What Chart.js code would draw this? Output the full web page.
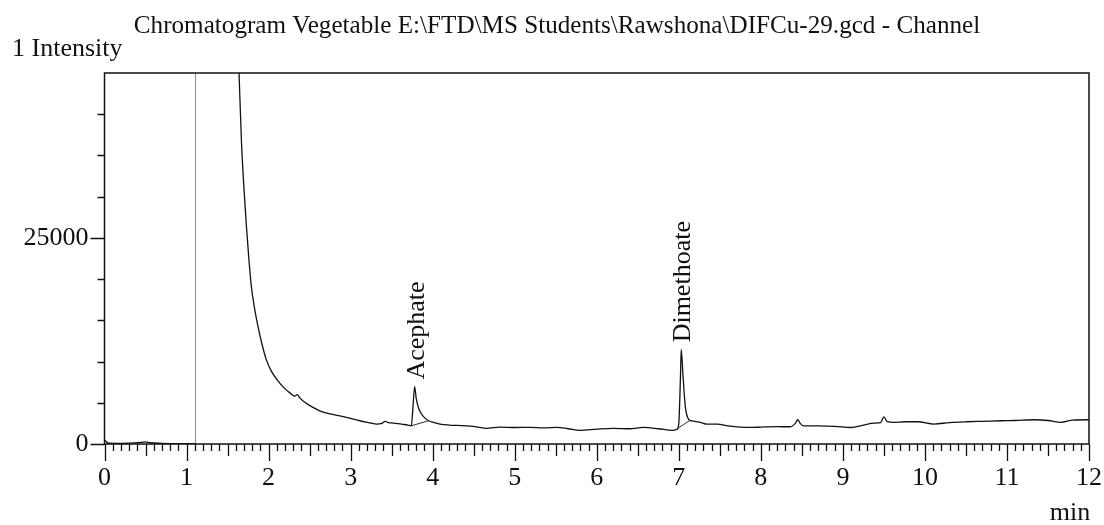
<!DOCTYPE html>
<html>
<head>
<meta charset="utf-8">
<script src="https://cdn.jsdelivr.net/npm/chart.js@4.4.1/dist/chart.umd.min.js"></script>
<style>
    body { margin: 0; background: #fff; }
    #wrap { width: 1104px; height: 525px; }
</style>
</head>
<body>
<div id="wrap"><canvas id="chromCanvas" width="1104" height="525"></canvas></div>
<script>
// retention time (min) and intensity
var signalTimes = [0, 0.02, 0.05, 0.15, 0.3, 0.45, 0.5, 0.55, 0.7, 0.9, 1.05, 1.10, 1.3,
    1.60, 1.64, 1.67, 1.70, 1.73, 1.76, 1.79, 1.83, 1.87, 1.92, 1.97, 2.03, 2.10, 2.18, 2.26, 2.32, 2.35, 2.38,
    2.45, 2.53, 2.63, 2.75, 2.87, 3.0, 3.11, 3.22, 3.32, 3.38, 3.42, 3.46, 3.52, 3.62, 3.70, 3.74,
    3.76, 3.78, 3.80, 3.83, 3.86, 3.90, 3.95, 4.02, 4.09, 4.2, 4.3, 4.42, 4.55, 4.66, 4.82, 5.0,
    5.19, 5.35, 5.52, 5.65, 5.80, 6.0, 6.2, 6.4, 6.57, 6.75, 6.92, 6.98, 7.00, 7.02, 7.03, 7.05,
    7.08, 7.12, 7.16, 7.25, 7.35, 7.47, 7.6, 7.75, 7.88, 8.0, 8.2, 8.36, 8.42, 8.45, 8.48, 8.52,
    8.7, 8.9, 9.10, 9.25, 9.38, 9.46, 9.50, 9.54, 9.62, 9.75, 9.91, 10.11, 10.3, 10.52, 10.7, 10.93,
    11.1, 11.33, 11.5, 11.66, 11.8, 11.99, 12.0];
var signalValues = [500, 300, 100, 80, 100, 200, 250, 150, 80, 50, 50, 50, null,
    56000, 45000, 36500, 31000, 26400, 22400, 19100, 16400, 14300, 12100, 10300, 8900, 7850, 6900, 6200, 5800, 6000, 5600,
    5000, 4500, 4000, 3650, 3400, 3100, 2820, 2600, 2420, 2500, 2740, 2600, 2540, 2400, 2300, 2210,
    4500, 6970, 5500, 4300, 3700, 3200, 2820, 2600, 2420, 2300, 2250, 2210, 2050, 1900, 2050, 2000,
    2010, 1950, 2010, 1850, 1650, 1800, 1900, 1850, 2010, 1850, 1650, 1800, 2500, 8000, 11480, 8500,
    4500, 3000, 2800, 2650, 2400, 2400, 2200, 2050, 2010, 2050, 2100, 2090, 2500, 2940, 2500, 2210,
    2200, 2150, 2000, 2300, 2540, 2600, 3300, 2700, 2620, 2700, 2700, 2420, 2600, 2700, 2750, 2820,
    2850, 2940, 2850, 2620, 2900, 2940, 2900];

// peak names, apex times and apex heights
var peakNames = ["Acephate", "Dimethoate"];
var peakTimes = [3.78, 7.03];
var peakHeights = [6970, 11480];

// integration baselines under the peaks
var baseStartTimes = [3.74, 6.98];
var baseStartValues = [2210, 1850];
var baseEndTimes = [3.95, 7.13];
var baseEndValues = [2820, 2820];

// vertical marker line
var markerTime = 1.11;

var xMin = 0, xMax = 12, xStep = 0.1;
var yMin = 0, yMax = 45000, yStep = 5000;
var yLabelled = [0, 25000];

var fontFam = "'Liberation Serif', 'Times New Roman', serif";
var ink = "#111";

var signalPoints = [];
for (var i = 0; i < signalTimes.length; ++i) {
    signalPoints.push({ x: signalTimes[i], y: signalValues[i] });
}

var baseSets = [];
for (var i = 0; i < baseStartTimes.length; ++i) {
    baseSets.push({
        data: [{ x: baseStartTimes[i], y: baseStartValues[i] }, { x: baseEndTimes[i], y: baseEndValues[i] }],
        borderColor: "#333",
        borderWidth: 1,
        pointRadius: 0
    });
}

// box, tick marks, texts
var decorPlugin = {
    id: "decor",
    afterDraw: function(chart) {
        var ctx = chart.ctx;
        var area = chart.chartArea;
        var xs = chart.scales.x;
        var ys = chart.scales.y;
        ctx.save();
        ctx.strokeStyle = ink;
        ctx.lineWidth = 1.5;
        ctx.strokeRect(area.left, area.top, area.right - area.left, area.bottom - area.top);

        ctx.lineWidth = 1.3;
        ctx.beginPath();
        xs.ticks.forEach(function(t) {
            var n = Math.round(t.value * 10);
            var len = n % 10 == 0 ? 17 : (n % 5 == 0 ? 12 : 7);
            var px = Math.round(xs.getPixelForValue(n / 10)) + 0.5;
            ctx.moveTo(px, area.bottom);
            ctx.lineTo(px, area.bottom + len);
        });
        ys.ticks.forEach(function(t) {
            if (t.value >= yMax) return;
            var len = yLabelled.indexOf(t.value) >= 0 ? 14 : 7;
            var py = Math.round(ys.getPixelForValue(t.value)) + 0.5;
            ctx.moveTo(area.left, py);
            ctx.lineTo(area.left - len, py);
        });
        ctx.stroke();

        ctx.fillStyle = ink;
        ctx.textBaseline = "alphabetic";
        ctx.font = "26px " + fontFam;

        // title is a little narrower in the original print
        ctx.save();
        ctx.translate(557, 33);
        ctx.scale(0.967, 1);
        ctx.textAlign = "center";
        ctx.fillText("Chromatogram Vegetable E:\\FTD\\MS Students\\Rawshona\\DIFCu-29.gcd - Channel", 0, 0);
        ctx.restore();

        ctx.textAlign = "left";
        ctx.fillText("1 Intensity", 12, 56);
        ctx.textAlign = "center";
        ctx.fillText("min", 1070, 520);

        // peak names, rotated
        for (var i = 0; i < peakNames.length; ++i) {
            var px = xs.getPixelForValue(peakTimes[i]);
            var py = ys.getPixelForValue(peakHeights[i]);
            ctx.save();
            ctx.translate(px + 9, py - 7);
            ctx.rotate(-Math.PI / 2);
            ctx.textAlign = "left";
            ctx.fillText(peakNames[i], 0, 0);
            ctx.restore();
        }
        ctx.restore();
    }
};

var ctx = document.getElementById("chromCanvas").getContext("2d");
var myChart = new Chart(ctx, {
    type: "line",
    data: {
        datasets: [{
            data: signalPoints,
            borderColor: ink,
            borderWidth: 1.3,
            pointRadius: 0,
            cubicInterpolationMode: "monotone",
            spanGaps: false
        }, {
            data: [{ x: markerTime, y: yMin }, { x: markerTime, y: yMax }],
            borderColor: "#8a8a8a",
            borderWidth: 1,
            pointRadius: 0
        }].concat(baseSets)
    },
    options: {
        responsive: false,
        animation: false,
        events: [],
        layout: { padding: { left: 0, right: 15, top: 73, bottom: 0 } },
        plugins: {
            legend: { display: false },
            tooltip: { enabled: false },
            title: { display: false }
        },
        scales: {
            x: {
                type: "linear",
                min: xMin,
                max: xMax,
                border: { display: false },
                grid: { drawOnChartArea: false, color: "rgba(0,0,0,0)", tickLength: 17 },
                ticks: {
                    stepSize: xStep,
                    autoSkip: false,
                    maxRotation: 0,
                    padding: 2,
                    color: ink,
                    font: { family: fontFam, size: 26 },
                    callback: function(v) {
                        var n = Math.round(v * 10);
                        return n % 10 == 0 ? String(n / 10) : "";
                    }
                },
                afterFit: function(scale) { scale.height = 81; }
            },
            y: {
                min: yMin,
                max: yMax,
                border: { display: false },
                grid: { drawOnChartArea: false, color: "rgba(0,0,0,0)", tickLength: 14 },
                ticks: {
                    stepSize: yStep,
                    autoSkip: false,
                    padding: 2,
                    color: ink,
                    font: { family: fontFam, size: 26 },
                    callback: function(v) {
                        return yLabelled.indexOf(v) >= 0 ? String(v) : "";
                    }
                },
                afterFit: function(scale) { scale.width = 104.5; }
            }
        }
    },
    plugins: [decorPlugin]
});
</script>
</body>
</html>
